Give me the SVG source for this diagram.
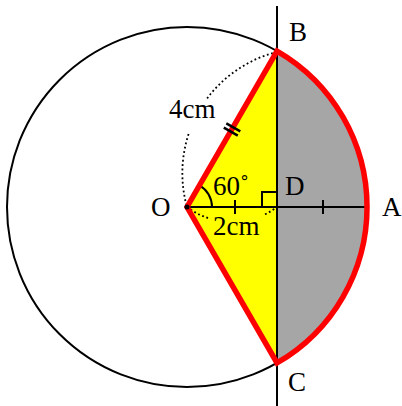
<svg xmlns="http://www.w3.org/2000/svg" width="402" height="406" viewBox="0 0 402 406">
<style>
.lbl{font-family:"Liberation Serif","Times New Roman",serif;font-size:27px;fill:#000}
.thin{fill:none;stroke:#000;stroke-width:2}
.dot{fill:none;stroke:#000;stroke-width:1.8;stroke-dasharray:1.8 2.6}
</style>
<rect width="402" height="406" fill="#fff"/>
<g id="circle"><circle cx="187" cy="207" r="180" class="thin"/></g>
<g id="segment"><path d="M277,51.1 A180,180 0 0 1 277,362.9 Z" fill="#a6a6a6"/></g>
<g id="triangle"><path d="M277,51.1 L187,207 L277,362.9 Z" fill="#ffff00"/></g>
<g id="connectors">
<path class="dot" d="M277,52 A125.6,125.6 0 0 0 205.9,100"/>
<path class="dot" d="M188.6,134 A125.6,125.6 0 0 0 187,207"/>
<path class="dot" d="M187,207 A75,75 0 0 0 210,218.7"/>
<path class="dot" d="M265,214.3 A75,75 0 0 0 277,207"/>
<line x1="187" y1="207" x2="367" y2="207" class="thin"/>
<line x1="277" y1="6" x2="277" y2="406" class="thin"/>
<path class="thin" d="M262,207 V192 H277"/>
<path class="thin" d="M199.5,185.3 A25,25 0 0 1 212,207"/>
<line x1="235" y1="200" x2="235" y2="214" class="thin"/>
<line x1="323" y1="200" x2="323" y2="214" class="thin"/>
<path d="M277,51.1 L187,207 L277,362.9 A180,180 0 0 0 277,51.1 Z" fill="none" stroke="#ff0000" stroke-width="5.5" stroke-linejoin="miter"/>
<line x1="223.8" y1="127.6" x2="237.8" y2="135.7" stroke="#000" stroke-width="2.5"/>
<line x1="226.3" y1="123.3" x2="240.3" y2="131.4" stroke="#000" stroke-width="2.5"/>
<circle cx="187" cy="207" r="2.5" fill="#000"/>
</g>
<g id="labels">
<text class="lbl" x="289" y="41">B</text>
<text class="lbl" x="382" y="216">A</text>
<text class="lbl" x="288" y="391">C</text>
<text class="lbl" x="151" y="216">O</text>
<text class="lbl" x="285" y="195">D</text>
<text class="lbl" x="169" y="118">4cm</text>
<text class="lbl" x="213" y="235">2cm</text>
<text class="lbl" x="213" y="195">60˚</text>
</g>
</svg>
